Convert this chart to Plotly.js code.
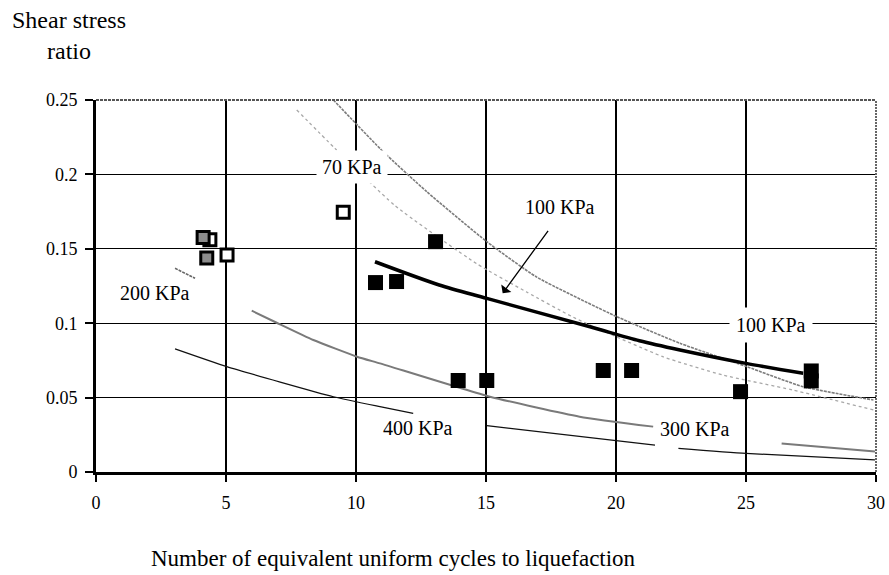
<!DOCTYPE html>
<html>
<head>
<meta charset="utf-8">
<script src="https://cdn.plot.ly/plotly-3.0.1.min.js"></script>
<style>html,body{margin:0;padding:0;background:#fff;}#chart{width:889px;height:575px;}</style>
</head>
<body>
<div id="chart"></div>
<script>
// ---- Data ----
const xTickVals = [0, 5, 10, 15, 20, 25, 30];
const xTickText = ['0', '5', '10', '15', '20', '25', '30'];
const yTickVals = [0, 0.05, 0.1, 0.15, 0.2, 0.25];
const yTickText = ['0', '0.05', '0.1', '0.15', '0.2', '0.25'];

// open squares
const openX = [4.38, 5.04, 9.51];
const openY = [0.156, 0.1458, 0.1745];
// gray (hatched) squares
const grayX = [4.12, 4.26];
const grayY = [0.1576, 0.1438];
// solid black squares
const blackX = [10.75, 11.56, 13.06, 13.93, 15.03, 19.51, 20.6, 24.79, 27.51, 27.51];
const blackY = [0.1273, 0.128, 0.1548, 0.0615, 0.0615, 0.0682, 0.0682, 0.054, 0.0679, 0.0612];

// thick fitted curve (100 KPa)
const fitX = [10.73, 13.2, 15.03, 19.0, 20.9, 22.46, 25.0, 27.2];
const fitY = [0.1413, 0.1257, 0.1167, 0.0976, 0.0882, 0.082, 0.073, 0.0663];

// 70 KPa reference curve (darker gray dotted)
const c70X = [9.13, 11.05, 12.72, 15.03, 16.95, 20.03, 22.46, 25.03, 27.2, 29.9];
const c70Y = [0.25, 0.2152, 0.1884, 0.1548, 0.131, 0.1044, 0.0865, 0.0708, 0.0573, 0.0484];

// 100 KPa reference curve (light gray dotted)
const c100X = [7.72, 9.19, 11.5, 14.64, 16.56, 18.36, 21.8, 24.1, 26.8, 29.9];
const c100Y = [0.2433, 0.2175, 0.179, 0.140, 0.121, 0.104, 0.0775, 0.0652, 0.0551, 0.0417];

// 200 KPa short segment
const c200X = [3.04, 3.81];
const c200Y = [0.1369, 0.1302];

// 300 KPa reference curve (gray)
const c300X = [5.99, 6.95, 8.36, 10.04, 10.92, 15.15, 18.6, 21.43, null, 26.37, 29.96];
const c300Y = [0.1084, 0.1003, 0.0887, 0.0775, 0.073, 0.0506, 0.0372, 0.0305, null, 0.0192, 0.0137];

// 400 KPa reference curve (thin black)
const c400X = [3.04, 5.03, 9.13, 10.92, 12.2, null, 15.03, 21.5, null, 22.4, 25.0, 29.96];
const c400Y = [0.0827, 0.0708, 0.0506, 0.0439, 0.0394, null, 0.0311, 0.018, null, 0.0159, 0.0125, 0.0081];

const serif = 'Liberation Serif, Times New Roman, serif';

const traces = [
  {x: c100X, y: c100Y, mode: 'lines', line: {color: '#a8a8a8', width: 1.3, dash: 'dot', shape: 'spline', smoothing: 0.5}},
  {x: c70X, y: c70Y, mode: 'lines', line: {color: '#7c7c7c', width: 1.6, dash: '3px,1px', shape: 'spline', smoothing: 0.5}},
  {x: c200X, y: c200Y, mode: 'lines', line: {color: '#666', width: 1.6, dash: '3px,1px'}},
  {x: c300X, y: c300Y, mode: 'lines', connectgaps: false, line: {color: '#7a7a7a', width: 2, shape: 'spline', smoothing: 0.5}},
  {x: c400X, y: c400Y, mode: 'lines', connectgaps: false, line: {color: '#111', width: 1.2, shape: 'spline', smoothing: 0.5}},
  {x: fitX, y: fitY, mode: 'lines', line: {color: '#000', width: 3.5, shape: 'spline', smoothing: 0.8}},
  {x: openX, y: openY, mode: 'markers', marker: {symbol: 'square', size: 12, color: '#fff', line: {color: '#000', width: 3}}},
  {x: grayX, y: grayY, mode: 'markers', marker: {symbol: 'square', size: 12, color: '#8c8c8c', line: {color: '#000', width: 3}}},
  {x: blackX, y: blackY, mode: 'markers', marker: {symbol: 'square', size: 15, color: '#000', line: {width: 0}}}
];

const lblFont = {family: serif, size: 20, color: '#000'};

const layout = {
  width: 889, height: 575,
  margin: {l: 96, r: 13, t: 100, b: 103, pad: 0},
  paper_bgcolor: '#fff', plot_bgcolor: '#fff',
  showlegend: false,
  hovermode: false,
  xaxis: {
    range: [0, 30], tickvals: xTickVals, ticktext: xTickText,
    showgrid: true, gridcolor: '#000', gridwidth: 1.2,
    zeroline: false, showline: true, linecolor: '#000', linewidth: 3,
    ticks: 'outside', ticklen: 7, tickwidth: 2, tickcolor: '#000',
    ticklabelstandoff: 5,
    tickfont: {family: serif, size: 18, color: '#000'}
  },
  yaxis: {
    range: [0, 0.25], tickvals: yTickVals, ticktext: yTickText,
    showgrid: true, gridcolor: '#000', gridwidth: 1.2,
    zeroline: false, showline: true, linecolor: '#000', linewidth: 3,
    ticks: 'outside', ticklen: 8, tickwidth: 2, tickcolor: '#000',
    ticklabelstandoff: 4,
    tickfont: {family: serif, size: 18, color: '#000'}
  },
  shapes: [
    {type: 'line', xref: 'paper', yref: 'paper', x0: 0, x1: 1, y0: 1, y1: 1, layer: 'above', line: {color: '#555', width: 2, dash: '3px,1px'}},
    {type: 'line', xref: 'paper', yref: 'paper', x0: 1, x1: 1, y0: 0, y1: 1, layer: 'above', line: {color: '#666', width: 2, dash: '2px,1px'}}
  ],
  annotations: [
    {xref: 'paper', yref: 'paper', x: -0.1103, y: 1.215, xanchor: 'left', yanchor: 'middle', showarrow: false, text: 'Shear stress', font: {family: serif, size: 24, color: '#000'}},
    {xref: 'paper', yref: 'paper', x: -0.0654, y: 1.133, xanchor: 'left', yanchor: 'middle', showarrow: false, text: 'ratio', font: {family: serif, size: 24, color: '#000'}},
    {xref: 'paper', yref: 'paper', x: 0.3814, y: -0.232, xanchor: 'center', yanchor: 'middle', showarrow: false, text: 'Number of equivalent uniform cycles to liquefaction', font: {family: serif, size: 23, color: '#000'}},
    {x: 9.85, y: 0.2053, showarrow: false, text: '70 KPa', font: lblFont, bgcolor: '#fff', borderpad: 5},
    {x: 17.85, y: 0.1784, showarrow: false, text: '100 KPa', font: lblFont},
    {x: 2.27, y: 0.1206, showarrow: false, text: '200 KPa', font: lblFont},
    {x: 25.96, y: 0.0988, showarrow: false, text: '100 KPa', font: lblFont, bgcolor: '#fff', borderpad: 6},
    {x: 12.38, y: 0.0296, showarrow: false, text: '400 KPa', font: lblFont},
    {x: 23.04, y: 0.0289, showarrow: false, text: '300 KPa', font: lblFont, bgcolor: '#fff', borderpad: 2},
    {x: 15.64, y: 0.1201, ax: 17.43, ay: 0.1631, axref: 'x', ayref: 'y', text: '', showarrow: true, arrowhead: 1, arrowsize: 1.6, arrowwidth: 1.3, arrowcolor: '#000'}
  ]
};

Plotly.newPlot('chart', traces, layout, {staticPlot: true, displayModeBar: false});
</script>
</body>
</html>
